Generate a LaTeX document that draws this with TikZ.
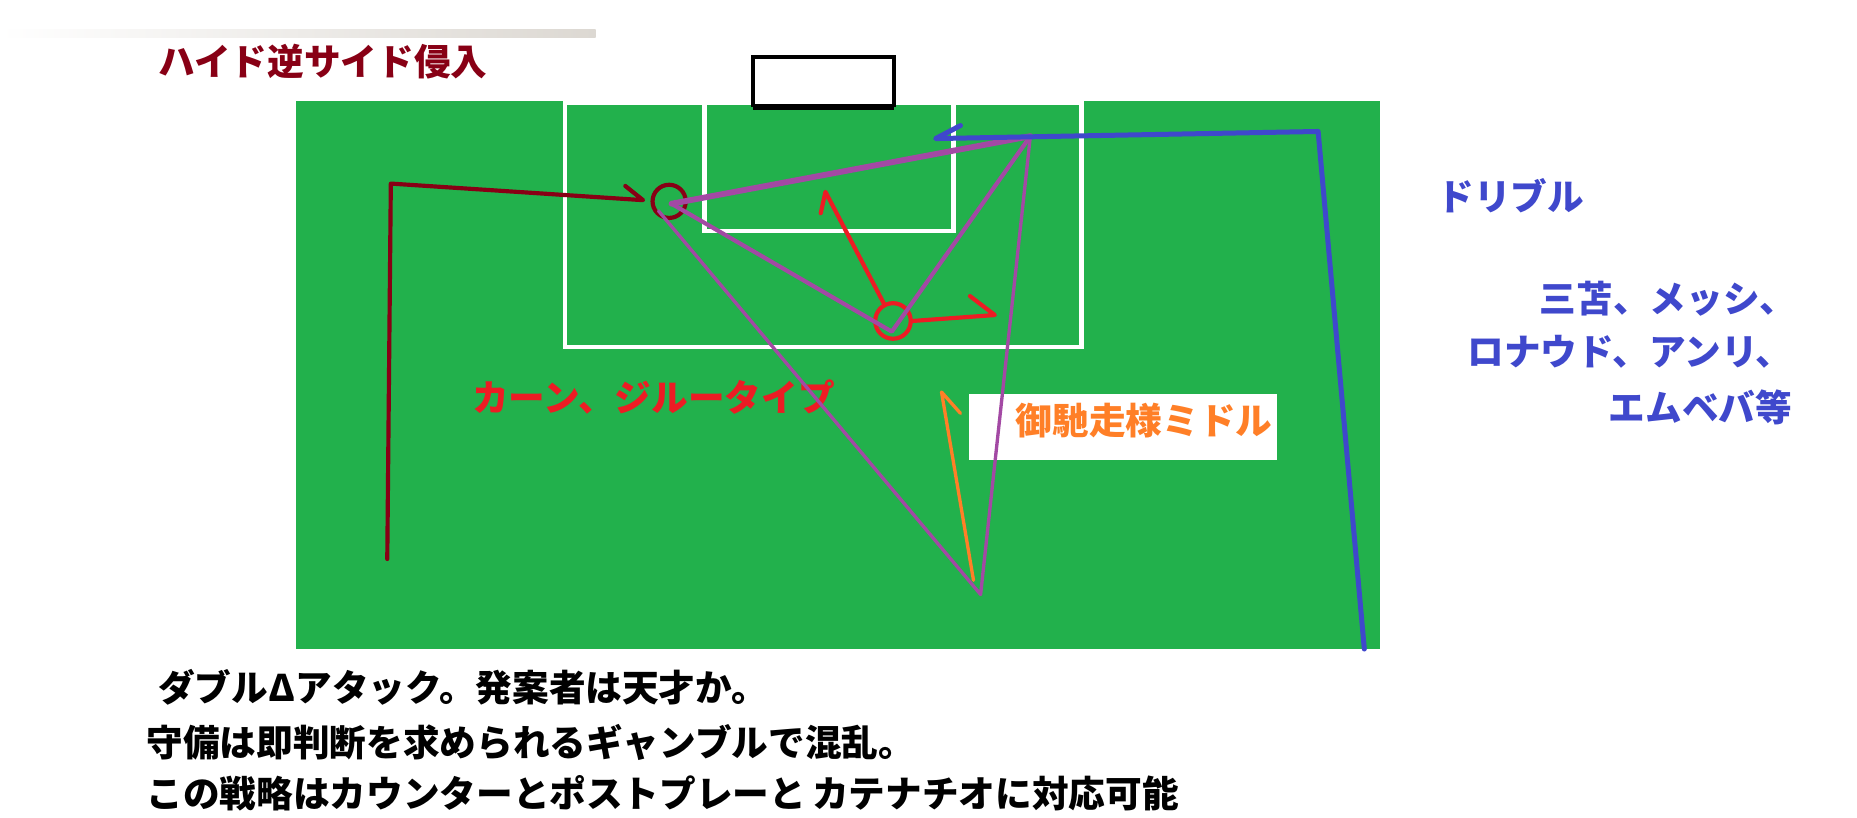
\documentclass[tikz,border=0pt]{standalone}
\usepackage{fontspec}
\setmainfont{Noto Sans CJK JP}
\usepackage{tikz}
\usetikzlibrary{arrows.meta}
\definecolor{pitch}{RGB}{34,177,76}
\definecolor{darkred}{RGB}{136,0,21}
\definecolor{runred}{RGB}{237,28,36}
\definecolor{passpurple}{RGB}{163,73,164}
\definecolor{dribblue}{RGB}{63,72,204}
\definecolor{midorange}{RGB}{255,127,39}
\newcommand{\jp}{\bfseries\fontsize{8.8pt}{10pt}\selectfont}

\begin{document}
\begin{tikzpicture}[x=0.01cm, y=-0.01cm,
  label/.style={anchor=west, inner sep=0pt, font=\jp},
  fieldline/.style={draw=white, line width=1.1pt},
  run/.style={line width=1pt, line cap=round, line join=round}]
  \useasboundingbox (0,0) rectangle (1568,690);

  % header bar and title
  \shade[left color=white, right color={rgb,255:red,220;green,216;blue,210}] (0,25) rectangle (503,32);
  \node[label, text=darkred] (title) at (133,52) {ハイド逆サイド侵入};

  % pitch
  \fill[pitch] (250,85) rectangle (1165,548);
  \draw[fieldline] (477,87) rectangle (913,293);
  \draw[fieldline] (595,87) rectangle (805,195);
  \draw[line width=1pt] (636,90) -- (636,48) -- (755,48) -- (755,90);
  \draw[line width=1.4pt] (636,90) -- (755,90);

  % labels
  \fill[white] (818,333) rectangle (1078,388);
  \node[label, text=midorange] (middle) at (857,355) {御馳走様ミドル};
  \node[label, text=runred] (target) at (398,335) {カーン、ジルータイプ};
  \node[label, text=dribblue] (dribble) at (1213,165) {ドリブル};
  \node[label, text=dribblue, anchor=east] (names1) at (1517,252) {三苫、メッシ、};
  \node[label, text=dribblue, anchor=east] (names2) at (1514,297) {ロナウド、アンリ、};
  \node[label, text=dribblue, anchor=east] (names3) at (1514,344) {エムベバ等};
  \node[label] (line1) at (133,580) {ダブルΔアタック。発案者は天才か。};
  \node[label] (line2) at (123,627) {守備は即判断を求められるギャンブルで混乱。};
  \node[label] (line3) at (123,670) {この戦略はカウンターとポストプレーと\,カテナチオに対応可能};

  % players
  \node[circle, draw=darkred, line width=1pt, minimum size=0.28cm, inner sep=0pt] (farpost) at (565,170) {};
  \node[circle, draw=runred, line width=1pt, minimum size=0.30cm, inner sep=0pt] (centre) at (754,271) {};

  % points of the moves
  \coordinate (hideStart) at (327,472);
  \coordinate (hideCorner) at (330,155);
  \coordinate (hideTip) at (543,169);
  \coordinate (hideBarb) at (528,157);
  \coordinate (upTip) at (697,162);
  \coordinate (upBarb) at (693,180);
  \coordinate (sideTip) at (840,266);
  \coordinate (sideBarb) at (819,250);
  \coordinate (passA) at (567,172);
  \coordinate (passA2) at (556,178);
  \coordinate (passB) at (870,115);
  \coordinate (passC) at (753,280);
  \coordinate (passD) at (828,502);
  \coordinate (shotStart) at (822,490);
  \coordinate (shotTip) at (795,331);
  \coordinate (shotBarb) at (811,349);
  \coordinate (dribStart) at (1152,548);
  \coordinate (dribCorner) at (1113,111);
  \coordinate (dribTip) at (790,117);
  \coordinate (dribBarb) at (811,106);

  % hide run
  \draw[run, draw=darkred] (hideStart) -- (hideCorner) -- (hideTip) -- (hideBarb);

  % centre forward
  \draw[run, draw=runred] (centre) -- (upTip) -- (upBarb);
  \draw[run, draw=runred] (centre.east) -- (sideTip) -- (sideBarb);

  % double triangle
  \draw[run, draw=passpurple, line width=1.4pt] (passA) -- (passB);
  \draw[run, draw=passpurple] (passB) -- (passC) -- (passA);
  \draw[run, draw=passpurple, line width=0.8pt] (passA2) -- (passD) -- (passB);

  % middle shot
  \draw[run, draw=midorange, line width=0.8pt] (shotStart) -- (shotTip) -- (shotBarb);

  % dribble
  \draw[run, draw=dribblue, line width=1.2pt] (dribStart) -- (dribCorner) -- (dribTip) -- (dribBarb);
\end{tikzpicture}
\end{document}
